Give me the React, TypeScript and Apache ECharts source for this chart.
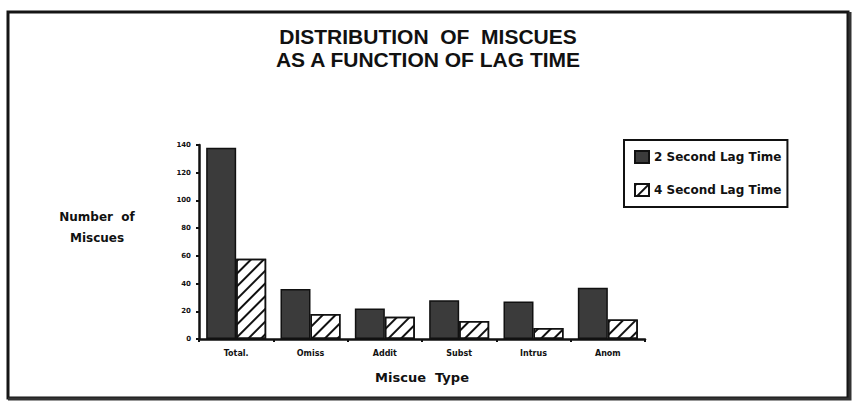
import React, { useEffect, useRef } from "react";
import * as echarts from "echarts";

const categories = ["Total.", "Omiss", "Addit", "Subst", "Intrus", "Anom"];
const lag2 = [138, 36, 22, 28, 27, 37];
const lag4 = [58, 18, 16, 13, 8, 14];
const seriesNames = ["2 Second Lag Time", "4 Second Lag Time"];
const titleLines = ["DISTRIBUTION  OF  MISCUES", "AS A FUNCTION OF LAG TIME"];
const yAxisTitle = "Number  of\nMiscues";
const xAxisTitle = "Miscue  Type";

export default function App() {
  const ref = useRef<HTMLDivElement>(null);
  useEffect(() => {
    if (!ref.current) return;
    const chart = echarts.init(ref.current, null, { renderer: "svg" });
    const heavy = "DejaVu Sans, Liberation Sans, Arial, sans-serif";
    chart.setOption({
      animation: false,
      backgroundColor: "#ffffff",
      title: {
        text: titleLines.join("\n"),
        left: 423,
        textAlign: "center",
        top: 20,
        textStyle: {
          fontFamily: "Liberation Sans Narrow, Liberation Sans, Arial, sans-serif",
          fontWeight: "bold",
          fontSize: 21,
          lineHeight: 23,
          color: "#111",
        },
      },
      legend: {
        orient: "vertical",
        left: 624,
        top: 140,
        padding: [10, 6, 10, 10],
        itemGap: 19,
        itemWidth: 14,
        itemHeight: 12,
        icon: "rect",
        borderColor: "#111",
        borderWidth: 2,
        data: seriesNames,
        textStyle: { fontFamily: heavy, fontWeight: "bold", fontSize: 12, color: "#111" },
      },
      grid: { left: 199, right: 208, top: 145, bottom: 63 },
      xAxis: {
        type: "category",
        data: categories,
        name: xAxisTitle,
        nameLocation: "middle",
        nameGap: 32,
        nameTextStyle: { fontFamily: heavy, fontWeight: "bold", fontSize: 13, color: "#111" },
        axisLine: { lineStyle: { color: "#111", width: 2.5 } },
        axisTick: { show: true, length: 3, lineStyle: { color: "#111", width: 2 } },
        axisLabel: { fontFamily: heavy, fontWeight: "bold", fontSize: 8, color: "#111", margin: 10 },
      },
      yAxis: {
        type: "value",
        min: 0,
        max: 140,
        interval: 20,
        splitLine: { show: false },
        axisLine: { show: true, lineStyle: { color: "#111", width: 2.5 } },
        axisTick: { show: true, length: 3, lineStyle: { color: "#111", width: 2 } },
        axisLabel: { fontFamily: heavy, fontWeight: "bold", fontSize: 7, color: "#111", margin: 8 },
      },
      series: [
        {
          name: seriesNames[0],
          type: "bar",
          data: lag2,
          barWidth: 30,
          barGap: "0%",
          itemStyle: { color: "#3b3b3b", borderColor: "#111", borderWidth: 1.5 },
        },
        {
          name: seriesNames[1],
          type: "bar",
          data: lag4,
          barWidth: 30,
          barGap: "0%",
          itemStyle: {
            color: "#ffffff",
            borderColor: "#111",
            borderWidth: 1.5,
            decal: {
              symbol: "rect",
              symbolSize: 1,
              dashArrayX: [1, 0],
              dashArrayY: [2, 7],
              rotation: -Math.PI / 4,
              color: "#111",
              backgroundColor: "#ffffff",
            },
          },
        },
      ],
      graphic: [
        {
          type: "text",
          x: 97,
          y: 206,
          style: {
            text: yAxisTitle,
            font: "bold 12px DejaVu Sans, Liberation Sans, Arial, sans-serif",
            fill: "#111",
            lineHeight: 21,
            textAlign: "center",
          },
        },
        {
          type: "rect",
          shape: { x: 8, y: 12, width: 840, height: 386 },
          style: { fill: "none", stroke: "#151515", lineWidth: 3 },
          silent: true,
        },
        {
          type: "polyline",
          shape: { points: [[850, 12], [850, 399], [8, 399]] },
          style: { fill: "none", stroke: "#333", lineWidth: 3 },
          silent: true,
        },
      ],
    });
    return () => chart.dispose();
  }, []);
  return (
    <div
      ref={ref}
      style={{ position: "fixed", left: 0, top: 0, width: 853, height: 402 }}
    />
  );
}
